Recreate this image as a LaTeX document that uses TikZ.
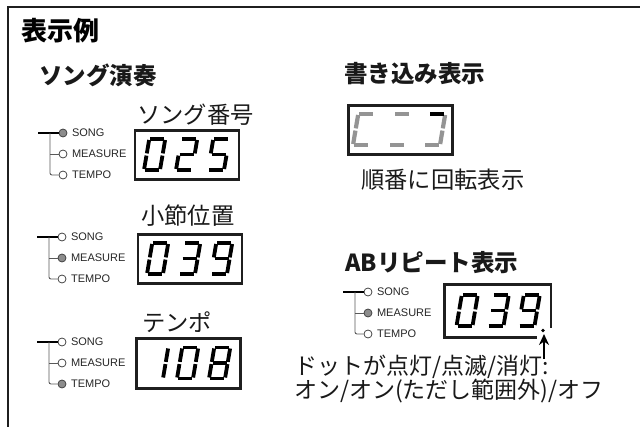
\documentclass[tikz,border=0pt]{standalone}
\usepackage{fontspec}
\setmainfont{Noto Sans CJK JP}
\newfontfamily\ledfont{Liberation Sans}
\usetikzlibrary{arrows.meta}
% seven-segment geometry (local frame, origin bottom-left, v up)
\newcommand\dsegA{(1.0,31) -- (15.0,31)}
\newcommand\dsegB{(16,30.0) -- (16,16.6)}
\newcommand\dsegC{(16,14.4) -- (16,1.0)}
\newcommand\dsegD{(1.0,0) -- (15.0,0)}
\newcommand\dsegE{(0,14.4) -- (0,1.0)}
\newcommand\dsegF{(0,30.0) -- (0,16.6)}
\newcommand\dsegG{(1.0,15.5) -- (15.0,15.5)}
\newcommand\sevendigit[4]{%
  \begin{scope}[shift={(#1,#2)},x=1pt,y=1pt,xslant=0.17]
    \foreach \s in {#3}{\draw[segline,#4] \csname dseg\s\endcsname;}
  \end{scope}}
\newcommand\ledgroup[6]{%
  \node[#4] (#1a) at (#2,#3) {};
  \node[#5] (#1b) at (#2,#3+21) {};
  \node[#6] (#1c) at (#2,#3+42) {};
  \node[ledtxt] (#1at) at ([xshift=4.5pt]#1a.east) {SONG};
  \node[ledtxt] (#1bt) at ([xshift=4.5pt]#1b.east) {MEASURE};
  \node[ledtxt] (#1ct) at ([xshift=4.5pt]#1c.east) {TEMPO};
  \coordinate (#1h) at (#2-25,#3);
  \coordinate (#1v) at (#2-13,#3);
  \draw[ledmain] (#1h) -- (#1a.west);
  \draw[ledbranch,rounded corners=2pt] (#1v) -- (#1v |- #1c) -- (#1c.west);
  \draw[ledbranch] (#1v |- #1b) -- (#1b.west);
}
\begin{document}
\begin{tikzpicture}[x=1pt,y=-1pt,
  segline/.style={line width=3.8pt,line cap=butt,draw=black},
  dispbox/.style={draw=black!88,line width=2.8pt,minimum width=104pt,minimum height=49.5pt,inner sep=0pt},
  boxline/.style={draw=black!88,line width=2.8pt},
  ledon/.style={circle,draw=black!75,line width=0.75pt,fill=black!45,minimum size=8pt,inner sep=0pt},
  ledoff/.style={circle,draw=black!75,line width=0.75pt,fill=white,minimum size=8pt,inner sep=0pt},
  ledtxt/.style={anchor=west,inner sep=0pt,font=\ledfont\fontsize{11}{12}\selectfont,text=black!85},
  ledmain/.style={draw=black,line width=1.4pt},
  ledbranch/.style={draw=black!65,line width=0.9pt},
  head/.style={anchor=west,inner sep=0pt,font=\bfseries\fontsize{23.5}{26}\selectfont,text=black!90},
  lbl/.style={anchor=west,inner sep=0pt,font=\fontsize{23.3}{26}\selectfont,text=black!90},
  note/.style={anchor=west,inner sep=0pt,font=\fontsize{23}{25}\selectfont,text=black!90},
  frame/.style={draw=black!88,line width=2.2pt},
  pointer/.style={-{Stealth[length=11pt,width=10pt]},line width=2.6pt,draw=black}
]
\useasboundingbox (0,0) rectangle (640,427);
% frame
\coordinate (fTR) at (641,7);
\coordinate (fTL) at (8,7);
\coordinate (fBL) at (8,428);
\draw[frame] (fTR) -- (fTL) -- (fBL);
% titles
\node[anchor=west,inner sep=0pt,font=\bfseries\fontsize{26}{28}\selectfont] (title) at (21,31) {表示例};
\node[head] (hsong) at (39,75) {ソング演奏};
\node[head] (hwrite) at (344,74) {書き込み表示};
\node[head] (hab) at (345,263) {ABリピート表示};
% labels
\node[lbl] (l1) at (137,115) {ソング番号};
\node[lbl] (l2) at (141,216) {小節位置};
\node[lbl] (l3) at (142,322) {テンポ};
\node[lbl] (l4) at (361,180) {順番に回転表示};
% display 1: 025
\node[dispbox] (box1) at (187,155) {};
\sevendigit{144}{170}{A,B,C,D,E,F}{}
\sevendigit{176}{170}{A,B,G,E,D}{}
\sevendigit{208}{170}{A,F,G,C,D}{}
\ledgroup{ga}{63}{133}{ledon}{ledoff}{ledoff}
% display 2: 039
\node[dispbox] (box2) at (190,259) {};
\sevendigit{147}{274}{A,B,C,D,E,F}{}
\sevendigit{179}{274}{A,B,G,C,D}{}
\sevendigit{211}{274}{A,B,F,G,C,D}{}
\ledgroup{gb}{62}{237}{ledoff}{ledon}{ledoff}
% display 3: 108
\node[dispbox] (box3) at (188.5,363.5) {};
\sevendigit{147}{378.5}{B,C}{}
\sevendigit{177}{378.5}{A,B,C,D,E,F}{}
\sevendigit{209}{378.5}{A,B,C,D,E,F,G}{}
\ledgroup{gc}{62}{342}{ledoff}{ledoff}{ledon}
% display 4: rotating
\node[dispbox] (box4) at (400.5,130) {};
\sevendigit{353}{145}{A,F,E,D}{draw=black!42,line width=4.2pt}
\sevendigit{389}{145}{A,D}{draw=black!42,line width=4.2pt}
\sevendigit{424}{145}{B,C,D}{draw=black!42,line width=4.2pt}
\sevendigit{424}{145}{A}{draw=black,line width=4.2pt}
% display 5: 039.
\node[dispbox,draw=none] (box5) at (497.5,311) {};
\draw[boxline] ([xshift=-14pt]box5.south east) -- (box5.south west) -- (box5.north west) -- (box5.north east) -- ([yshift=9pt]box5.south east);
\sevendigit{456.5}{326}{A,B,C,D,E,F}{}
\sevendigit{487.5}{326}{A,B,G,C,D}{}
\sevendigit{518.5}{326}{A,B,F,G,C,D}{}
\node[circle,fill=black,minimum size=3.8pt,inner sep=0pt] (dot) at (543,330.5) {};
\coordinate (arrS) at (544,359);
\coordinate (arrE) at (544,334);
\draw[pointer] (arrS) -- (arrE);
\ledgroup{gd}{368}{292}{ledoff}{ledon}{ledoff}
% notes
\node[note] (n1) at (294,367) {ドットが点灯/点滅/消灯:};
\node[note] (n2) at (294,391) {オン/オン(ただし範囲外)/オフ};
\end{tikzpicture}
\end{document}
